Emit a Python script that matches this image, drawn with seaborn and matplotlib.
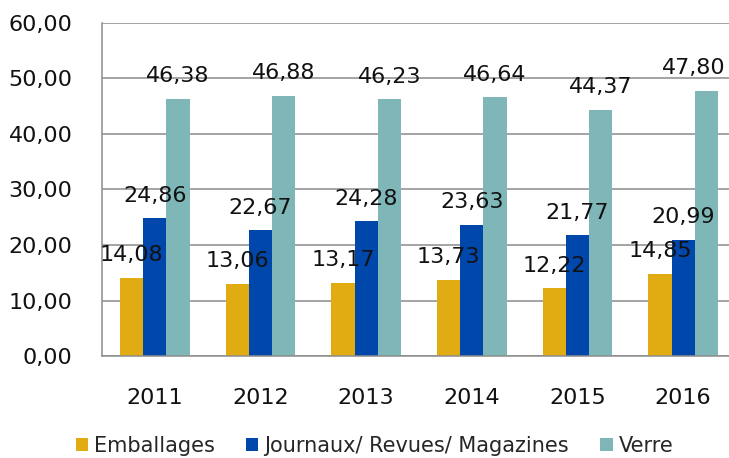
import pandas as pd
import seaborn as sns
import matplotlib.pyplot as plt

# Données du graphique
annees = ['2011', '2012', '2013', '2014', '2015', '2016']
emballages = [14.08, 13.06, 13.17, 13.73, 12.22, 14.85]
journaux = [24.86, 22.67, 24.28, 23.63, 21.77, 20.99]
verre = [46.38, 46.88, 46.23, 46.64, 44.37, 47.80]
series = ['Emballages', 'Journaux/ Revues/ Magazines', 'Verre']
couleurs = ['#E1AC12', '#0047AB', '#7FB7B9']

df = pd.DataFrame({'annee': annees * 3,
                   'serie': [series[0]] * 6 + [series[1]] * 6 + [series[2]] * 6,
                   'valeur': emballages + journaux + verre})

sns.set_style('white')
plt.rcParams['font.family'] = ['DejaVu Sans']

taille = 16
gris = '#8C8C8C'
fig = plt.figure(figsize=(7.29, 4.58), dpi=100)
ax = fig.add_axes([0.1399, 0.2227, 0.8697, 0.7271])

sns.barplot(data=df, x='annee', y='valeur', hue='serie', palette=couleurs,
            width=0.66, gap=0, saturation=1, linewidth=0, ax=ax, legend=True)

def fmt(v):
    return f'{v:.2f}'.replace('.', ',')

for cont in ax.containers:
    etiquettes = ax.bar_label(cont, labels=[fmt(v) for v in cont.datavalues],
                              padding=9, fontsize=taille, color='#111111')
# la dernière étiquette est décalée pour rester dans le cadre
etiquettes[-1].xyann = (-9, 9)

ax.set_ylim(0, 60)
ax.set_yticks(range(0, 61, 10))
ax.set_yticklabels([fmt(v) for v in range(0, 61, 10)])
ax.set_xlim(-0.5, 5.5)
ax.set_xlabel('')
ax.set_ylabel('')

ax.grid(axis='y', color=gris, linewidth=1.1)
ax.set_axisbelow(True)
for s in ['top', 'right']:
    ax.spines[s].set_visible(False)
for s in ['left', 'bottom']:
    ax.spines[s].set_color(gris)
    ax.spines[s].set_linewidth(1.1)

# graduations aux limites des catégories
ax.set_xticks([i - 0.5 for i in range(7)], minor=True)
ax.tick_params(axis='x', which='minor', length=7.2, width=1.1, color=gris, direction='out')
ax.tick_params(axis='x', which='major', length=0, pad=23, labelsize=taille, labelcolor='#111111')
ax.tick_params(axis='y', length=7.2, width=1.1, color=gris, direction='out',
               pad=14, labelsize=taille, labelcolor='#111111')

handles, labels = ax.get_legend_handles_labels()
ax.get_legend().remove()
fig.legend(handles, labels, loc='center', bbox_to_anchor=(0.514, 0.027), ncol=3,
           frameon=False, fontsize=15, handlelength=0.58, handleheight=0.58,
           handletextpad=0.3, columnspacing=1.5, borderaxespad=0)

fig.savefig('out.png', dpi=100)
